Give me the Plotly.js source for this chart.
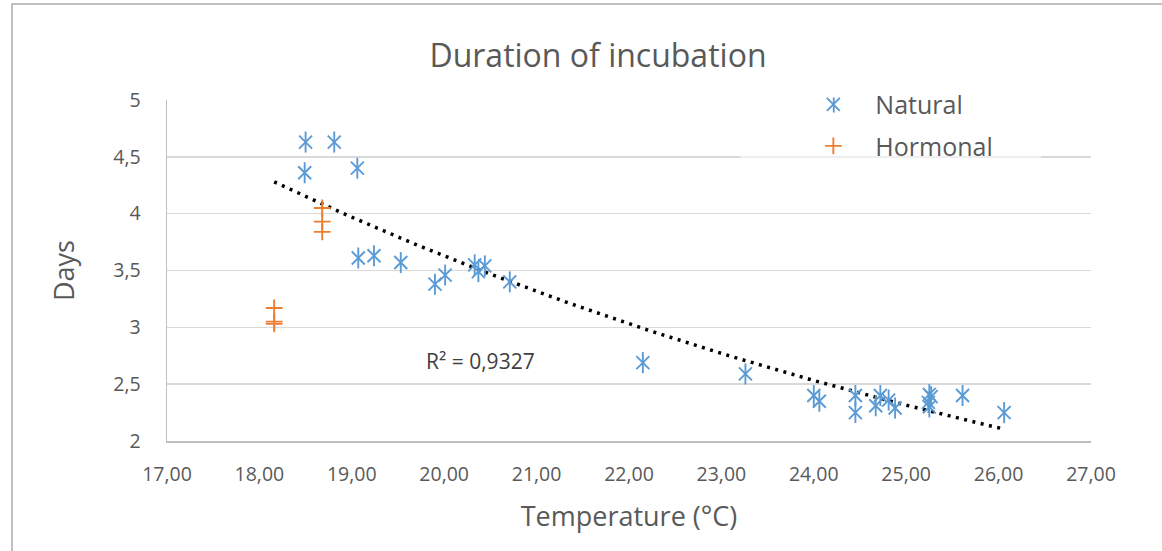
<!DOCTYPE html>
<html>
<head>
<meta charset="utf-8">
<script src="https://cdn.plot.ly/plotly-3.0.1.min.js"></script>
<style>
  html, body { margin: 0; padding: 0; background: #ffffff; }
  #wrap { position: relative; width: 1162px; height: 551px; overflow: hidden; }
  #chart { position: absolute; left: 0; top: 0; width: 1162px; height: 551px; }
  #frame { position: absolute; left: 11px; top: 3px; width: 1200px; height: 600px;
           border-left: 2px solid #c0c0c0; border-top: 2px solid #c0c0c0; pointer-events: none; }
</style>
</head>
<body>
<div id="wrap">
  <div id="chart"></div>
  <div id="frame"></div>
</div>
<script>
// ---- Data ----
const naturalTemp = [18.50, 18.81, 18.49, 19.06, 19.07, 19.24, 19.53, 19.90, 20.01, 20.33, 20.37, 20.44, 20.71,
                     22.15, 23.26, 24.00, 24.06, 24.45, 24.45, 24.67, 24.72, 24.81, 24.88,
                     25.25, 25.27, 25.24, 25.25, 25.61, 26.06];
const naturalDays = [4.63, 4.63, 4.36, 4.40, 3.61, 3.63, 3.57, 3.38, 3.46, 3.55, 3.49, 3.54, 3.40,
                     2.69, 2.59, 2.40, 2.35, 2.40, 2.25, 2.31, 2.40, 2.36, 2.29,
                     2.41, 2.39, 2.34, 2.30, 2.40, 2.25];
const hormonalTemp = [18.68, 18.68, 18.68, 18.16, 18.16, 18.16];
const hormonalDays = [4.05, 3.93, 3.84, 3.17, 3.05, 3.03];
const xTicks = [17, 18, 19, 20, 21, 22, 23, 24, 25, 26, 27];
const yTicks = [2, 2.5, 3, 3.5, 4, 4.5, 5];
const rSquaredLabel = "R² = 0,9327";
const chartTitle = "Duration of incubation";
const xTitle = "Temperature (°C)";
const yTitle = "Days";

// ---- Exponential trendline (least squares on ln y), like Excel ----
function expFit(xs, ys) {
  const n = xs.length;
  let sx = 0, sy = 0, sxx = 0, sxy = 0;
  for (let i = 0; i < n; i++) {
    const ly = Math.log(ys[i]);
    sx += xs[i]; sy += ly; sxx += xs[i] * xs[i]; sxy += xs[i] * ly;
  }
  const b = (n * sxy - sx * sy) / (n * sxx - sx * sx);
  const lnA = (sy - b * sx) / n;
  return { a: Math.exp(lnA), b: b };
}
const fit = expFit(naturalTemp, naturalDays);
const allTemp = naturalTemp.concat(hormonalTemp);
const tMin = Math.min.apply(null, allTemp), tMax = Math.max.apply(null, allTemp);
const trendX = [], trendY = [];
for (let i = 0; i <= 120; i++) {
  const t = tMin + (tMax - tMin) * i / 120;
  trendX.push(t); trendY.push(fit.a * Math.exp(fit.b * t));
}

const blue = '#5B9BD5', orange = '#ED7D31';
const font = '"Open Sans", Lato, sans-serif';

const traces = [
  { x: trendX, y: trendY, mode: 'lines', showlegend: false, hoverinfo: 'skip',
    line: { color: '#000000', width: 3.5, dash: '3px,5.5px' } },
  { x: naturalTemp, y: naturalDays, mode: 'markers', name: 'Natural', legendgroup: 'n',
    marker: { symbol: 'x-thin-open', size: 13, color: blue, line: { color: blue, width: 1.9 } } },
  { x: naturalTemp, y: naturalDays, mode: 'markers', name: 'Natural', legendgroup: 'n', showlegend: false,
    marker: { symbol: 'line-ns-open', size: 15, color: blue, line: { color: blue, width: 1.9 } } },
  { x: hormonalTemp, y: hormonalDays, mode: 'markers', name: 'Hormonal', legendgroup: 'h',
    marker: { symbol: 'cross-thin-open', size: 12, color: orange, line: { color: orange, width: 1.9 } } }
];

const layout = {
  width: 1162, height: 551,
  margin: { l: 167, r: 71, t: 100, b: 110 },
  paper_bgcolor: '#ffffff', plot_bgcolor: '#ffffff',
  separators: ', ',
  font: { family: font, color: '#595959' },
  title: { text: chartTitle, font: { family: font, size: 32, color: '#595959' },
           x: 0.5146, xanchor: 'center', y: 0.898, yanchor: 'middle', xref: 'container', yref: 'container' },
  xaxis: {
    range: [17, 27], tickvals: xTicks, tickformat: '.2f', showgrid: false, zeroline: false,
    showline: true, linecolor: '#bfbfbf', linewidth: 1.5, ticks: '',
    tickfont: { family: font, size: 19.5, color: '#595959' }, ticklabelstandoff: 15,
    title: { text: xTitle, font: { family: font, size: 27, color: '#595959' }, standoff: 21 },
    automargin: false
  },
  yaxis: {
    range: [2, 5], tickvals: yTicks, showgrid: true, gridcolor: '#d9d9d9', gridwidth: 1.5, zeroline: false,
    showline: true, linecolor: '#bfbfbf', linewidth: 1.5, ticks: '',
    tickfont: { family: font, size: 19.5, color: '#595959' }, ticklabelstandoff: 21,
    title: { text: yTitle, font: { family: font, size: 27, color: '#595959' }, standoff: 31 },
    automargin: false
  },
  legend: {
    x: 0.6757, xanchor: 'left', y: 1.054, yanchor: 'top',
    bgcolor: 'rgba(0,0,0,0)', borderwidth: 0,
    font: { family: font, size: 25, color: '#595959' },
    traceorder: 'grouped', tracegroupgap: 6, itemwidth: 74
  },
  annotations: [
    { xref: 'paper', yref: 'paper', x: 0.339, y: 0.235, text: rSquaredLabel, showarrow: false,
      font: { family: font, size: 21, color: '#404040' }, xanchor: 'center', yanchor: 'middle' }
  ],
  shapes: [
    // translucent legend box (as in the reference, it lightens the gridlines behind the legend)
    { type: 'rect', xref: 'paper', yref: 'paper', x0: 0.6208, x1: 0.9458, y0: 0.7947, y1: 1.044,
      fillcolor: 'rgba(255,255,255,0.55)', line: { width: 0 }, layer: 'above' },
    // vertical stroke completing the asterisk symbol in the legend
    { type: 'line', xref: 'paper', yref: 'paper', x0: 0.7216, x1: 0.7216, y0: 0.9853 - 0.022, y1: 0.9853 + 0.022,
      line: { color: blue, width: 1.9 }, layer: 'above' }
  ],
  showlegend: true
};

Plotly.newPlot('chart', traces, layout, { displayModeBar: false, staticPlot: true });
</script>
</body>
</html>
